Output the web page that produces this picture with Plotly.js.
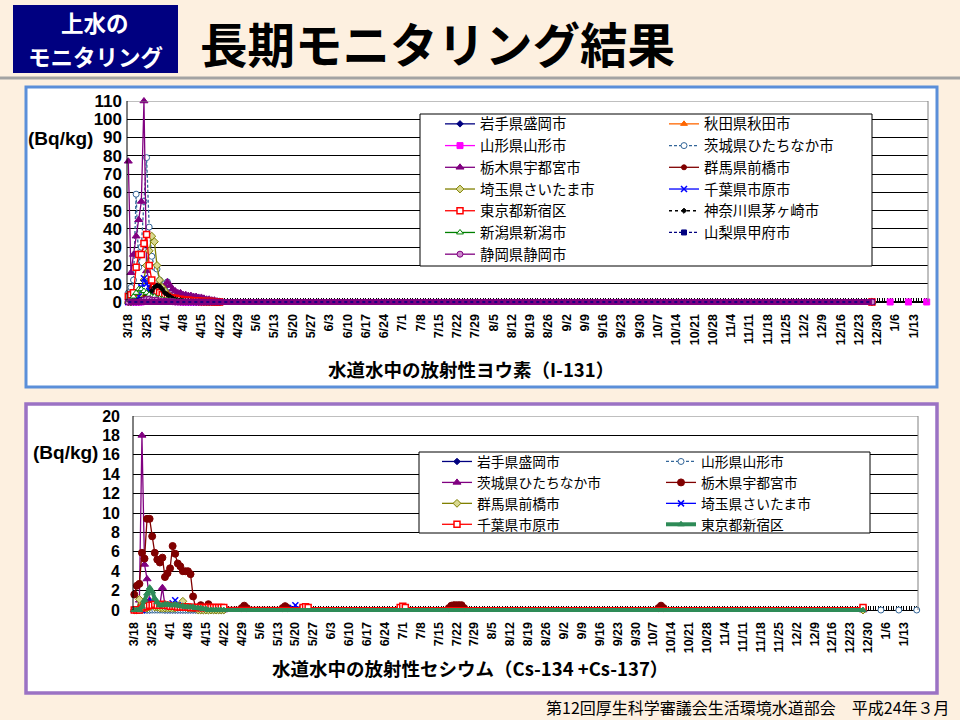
<!DOCTYPE html>
<html>
<head>
<meta charset="utf-8">
<script src="https://cdn.plot.ly/plotly-3.0.1.min.js"></script>
<style>
  body { margin: 0; background: #fdf0e0; }
  #chart { width: 960px; height: 720px; }
</style>
</head>
<body>
<div id="chart"></div>
<script>
// daily categories for the early, high part of the chart (3/18 - 4/22)
const earlyDates = [
  "2011-03-18", "2011-03-19", "2011-03-20", "2011-03-21", "2011-03-22", "2011-03-23", "2011-03-24",
  "2011-03-25", "2011-03-26", "2011-03-27", "2011-03-28", "2011-03-29", "2011-03-30", "2011-03-31",
  "2011-04-01", "2011-04-02", "2011-04-03", "2011-04-04", "2011-04-05", "2011-04-06", "2011-04-07",
  "2011-04-08", "2011-04-09", "2011-04-10", "2011-04-11", "2011-04-12", "2011-04-13", "2011-04-14",
  "2011-04-15", "2011-04-16", "2011-04-17", "2011-04-18", "2011-04-19", "2011-04-20", "2011-04-21",
  "2011-04-22"
];
// after 4/22 everything is at (or near) zero until the last daily value
const tailDates = ["2011-12-28"];
const tailValues = [0];
// weekly values in January (only Yamagata)
const weeklyDates = ["2011-12-29", "2012-01-04", "2012-01-05", "2012-01-11", "2012-01-12", "2012-01-18"];
const weeklyValues = [null, 0, null, 0, null, 0];
// thick band of overlapping markers on the zero line (top chart)
const bandDates = ["2011-03-18", "2011-12-28"];
const bandValues = [0, 0];

// ---- I-131 (Bq/kg)
const iwateI    = [0,0,0,0,0,0,0.5, 1,1,1,0.5,0.5,0.5,0.3, 0.3,0.2,0.2,0.2,0.1,0.1,0, 0,0,0,0,0,0,0, 0,0,0,0,0,0,0, 0];
const akitaI    = [0,0,0,0,0,0,0.3, 0.5,0.5,0.3,0.3,0.2,0.2,0.2, 0.1,0.1,0,0,0,0,0, 0,0,0,0,0,0,0, 0,0,0,0,0,0,0, 0];
const yamagataI = [0,0,0,0,0,0,1, 2,3,2,3,2,1,1, 0.5,0.5,0.3,0.3,0.2,0.2,0.1, 0,0,0,0,0,0,0, 0,0,0,0,0,0,0, 0];
const ibarakiI  = [5,8,12,59,19,30,55, 79,41,25,19,18,12,9, 10,11,8,6,4,3,2.5, 2,2,1.5,1.5,1,1,1, 0.8,0.5,0.5,0.3,0.3,0.2,0.2, 0];
const tochigiI  = [77,16,26,36,45,55,110, 17,12,9,7,6,6,7, 9,11,9,7,6,5,5, 4,4,3.5,3.5,3,3,2.5, 2.5,2,1.5,1.5,1,1,0.5, 0];
const gunmaI    = [0,0,0,0,1,2,3, 4,6,8,9,9,8,6, 5,4,3,2.5,2,1.5,1.5, 1,1,1,0.8,0.5,0.5,0.5, 0.3,0.3,0.2,0.2,0,0,0, 0];
const saitamaI  = [0,0,1,2,3,5,12, 20,28,36,33,20,12,8, 6,4,3,2,2,1.5,1, 1,1,0.8,0.5,0.5,0.3,0.3, 0.2,0.2,0,0,0,0,0, 0];
const chibaI    = [0,0,0,1,3,8,13, 10,6,4,3,2,2,1.5, 1,1,1,0.5,0.5,0.5,0.3, 0.3,0.2,0.2,0,0,0,0, 0,0,0,0,0,0,0, 0];
const tokyoI    = [3,4,5,19,26,26,32, 37,20,12,8,6,5,4, 3.5,3,2.5,2,2,1.5,1.5, 1,1,1,0.8,0.5,0.5,0.5, 0.3,0.3,0.2,0.2,0.2,0,0, 0];
const kanagawaI = [0,0,0,0,0,0,1, 2,4,6,8,9,8.5,7, 5,4,3,2,1.5,1,1, 0.8,0.5,0.5,0.3,0.2,0,0, 0,0,0,0,0,0,0, 0];
const niigataI  = [0,1,3,5,7,7,6, 5,4,3,3,2,2,1.5, 1,1,0.8,0.5,0.5,0.3,0.3, 0.2,0,0,0,0,0,0, 0,0,0,0,0,0,0, 0];
const yamanashiI= [0,0,0,0,0.5,1,1, 1,1,1,0.5,0.5,0.3,0.3, 0.2,0.2,0,0,0,0,0, 0,0,0,0,0,0,0, 0,0,0,0,0,0,0, 0];
const shizuokaI = [0,0,0,0,0,0.5,1, 1.5,1.5,1,1,1,0.5,0.5, 0.3,0.3,0.2,0.2,0,0,0, 0,0,0,0,0,0,0, 0,0,0,0,0,0,0, 0];

// ---- Cs-134 + Cs-137 (Bq/kg)
const iwateCs    = [0,0,0,0,0,0,0, 0.2,0.2,0.2,0.2,0.2,0,0, 0,0,0,0,0,0,0, 0,0,0,0,0,0,0, 0,0,0,0,0,0,0, 0];
const yamagataCs = [0,0,0,0,0,0,0, 0,0,0,0,0,0,0, 0,0,0,0,0,0,0, 0,0,0,0,0,0,0, 0,0,0,0,0,0,0, 0];
const ibarakiCs  = [0,0,1,18,4.7,3.2,1, 0.6,0.5,0.5,0.5,2.3,0.5,0.4, 0.3,0.3,0.3,0.3,0.2,0.2,0.2, 0.2,0.2,0.1,0.1,0.1,0,0, 0,0,0,0,0,0,0, 0];
const tochigiCs  = [1.6,2.5,2.7,5.9,5.3,9.4,9.4, 7.6,5.9,5.2,4.9,5.4,3.4,3.8, 4.3,6.6,5.8,4.8,4.5,4.0,4.0, 4.0,3.7,1.4,0.2,0.2,0.5,0.2, 0.2,0.6,0.2,0.2,0.2,0.2,0.2, 0.2];
const gunmaCs    = [0,0,1.1,0.3,0.2,0.2,0.3, 0.5,0.3,0.3,0.2,0.2,0.2,0.2, 0.2,0.2,0.2,0.3,0.5,0.9,0.3, 0.2,0.2,0.2,0.2,0,0,0, 0,0,0,0,0,0,0, 0];
const saitamaCs  = [0,0,0,0,0.3,0.5,0.5, 0.9,0.8,0.5,0.5,0.5,0.5,0.4, 0.5,0.7,1.0,0.5,0.4,0.3,0.3, 0.3,0.3,0.2,0.2,0.2,0.3,0.2, 0.2,0.2,0.2,0.2,0.2,0.2,0.2, 0.2];
const chibaCs    = [0,0,0,0.2,0.3,0.4,0.5, 0.5,0.6,0.5,0.5,0.6,0.5,0.5, 0.4,0.4,0.4,0.3,0.3,0.3,0.3, 0.3,0.25,0.25,0.25,0.25,0.25,0.25, 0.25,0.25,0.25,0.25,0.25,0.25,0.25, 0.25];
const tokyoCs    = [0,0,0,0.35,1.0,1.7,2.3, 1.9,1.2,0.8,0.5,0.5,0.6,0.6, 0.5,0.5,0.6,0.5,0.4,0.4,0.3, 0.3,0.3,0.3,0.2,0.2,0.2,0.1, 0.1,0,0,0,0,0,0, 0];

// occasional small detections later in the year
const tochigiCsLateDates = ["2011-04-29","2011-04-30","2011-05-01","2011-05-15","2011-05-16","2011-05-17",
  "2011-07-19","2011-07-20","2011-07-21","2011-07-22","2011-07-23","2011-07-24","2011-07-25",
  "2011-10-09","2011-10-10","2011-10-11","2011-12-28"];
const tochigiCsLateValues = [0.2,0.45,0.2,0.2,0.4,0.2, 0.2,0.45,0.5,0.5,0.5,0.5,0.2, 0.2,0.45,0.2, 0.2];
const saitamaCsLateDates = ["2011-05-19","2011-05-20","2011-05-21","2011-12-28"];
const saitamaCsLateValues = [0.2,0.5,0.2,0.2];
const chibaCsLateDates = ["2011-05-23","2011-05-24","2011-05-25","2011-06-30","2011-07-01","2011-07-02","2011-12-28"];
const chibaCsLateValues = [0.25,0.35,0.25,0.25,0.4,0.25,0.25];

const JP = '"Noto Sans CJK JP", "Noto Sans", sans-serif';
const NUM = '"Liberation Sans", Arial, sans-serif';

// pixel -> paper helpers (margins are zero, so paper == page)
const px = x => x / 960;
const py = y => 1 - y / 720;

function makeTrace(s, xa, ya, legend) {
  return {
    type: "scatter", mode: "lines+markers", name: s.name,
    x: s.x, y: s.y, xaxis: xa, yaxis: ya, legend: legend,
    cliponaxis: false, connectgaps: false,
    line: { color: s.color, width: s.width || 1.3, dash: s.dash || "solid" },
    marker: {
      symbol: s.symbol, size: s.size || 5,
      color: s.fill || s.color,
      line: { color: s.color, width: s.mlw || 1 }
    }
  };
}

const early = (vals) => ({ x: earlyDates.concat(tailDates), y: vals.concat(tailValues) });

const topSeries = [
  { name: "岩手県盛岡市", ...early(iwateI), color: "#000080", symbol: "diamond", size: 5 },
  { name: "秋田県秋田市", ...early(akitaI), color: "#ff6600", symbol: "triangle-up", size: 6 },
  { name: "山形県山形市", x: earlyDates.concat(tailDates, weeklyDates), y: yamagataI.concat(tailValues, weeklyValues),
    color: "#ff00ff", symbol: "square", size: 6 },
  { name: "茨城県ひたちなか市", ...early(ibarakiI), color: "#336699", dash: "3px,2px", symbol: "circle", fill: "#ffffff", size: 6 },
  { name: "栃木県宇都宮市", ...early(tochigiI), color: "#800080", symbol: "triangle-up", size: 7 },
  { name: "群馬県前橋市", ...early(gunmaI), color: "#800000", symbol: "circle", size: 5 },
  { name: "埼玉県さいたま市", ...early(saitamaI), color: "#808000", symbol: "diamond", fill: "#d8d890", size: 6 },
  { name: "千葉県市原市", ...early(chibaI), color: "#0000ff", symbol: "x-thin", size: 6, mlw: 1.5 },
  { name: "東京都新宿区", ...early(tokyoI), color: "#ff0000", symbol: "square", fill: "#ffffff", size: 6, mlw: 1.5 },
  { name: "神奈川県茅ヶ崎市", ...early(kanagawaI), color: "#000000", dash: "dot", symbol: "diamond", size: 4 },
  { name: "新潟県新潟市", ...early(niigataI), color: "#008000", symbol: "triangle-up", fill: "#ffffff", size: 6 },
  { name: "山梨県甲府市", ...early(yamanashiI), color: "#000080", dash: "3px,2px", symbol: "square", size: 5 },
  { name: "静岡県静岡市", ...early(shizuokaI), color: "#800080", symbol: "circle", fill: "#cc88cc", size: 6 }
];

const botSeries = [
  { name: "岩手県盛岡市", ...early(iwateCs), color: "#000080", symbol: "diamond", size: 5 },
  { name: "山形県山形市", x: earlyDates.concat(tailDates, weeklyDates), y: yamagataCs.concat(tailValues, weeklyValues),
    color: "#336699", dash: "3px,2px", symbol: "circle", fill: "#ffffff", size: 6 },
  { name: "茨城県ひたちなか市", ...early(ibarakiCs), color: "#800080", symbol: "triangle-up", size: 7 },
  { name: "栃木県宇都宮市", x: earlyDates.concat(tochigiCsLateDates), y: tochigiCs.concat(tochigiCsLateValues),
    color: "#800000", symbol: "circle", size: 7 },
  { name: "群馬県前橋市", ...early(gunmaCs), color: "#808000", symbol: "diamond", fill: "#d8d890", size: 6 },
  { name: "埼玉県さいたま市", x: earlyDates.concat(saitamaCsLateDates), y: saitamaCs.concat(saitamaCsLateValues),
    color: "#0000ff", symbol: "x-thin", size: 6, mlw: 1.5 },
  { name: "千葉県市原市", x: earlyDates.concat(chibaCsLateDates), y: chibaCs.concat(chibaCsLateValues),
    color: "#ff0000", symbol: "square", fill: "#ffffff", size: 6, mlw: 1.5 },
  { name: "東京都新宿区", ...early(tokyoCs), color: "#2e8b57", width: 4, symbol: "triangle-up", size: 6 }
];

const data = [];
topSeries.forEach((s, i) => data.push(makeTrace(s, "x", "y", i % 2 === 0 ? "legend" : "legend2")));
// zero band drawn on top, as in the original
data.push({ type: "scatter", mode: "lines", x: bandDates, y: bandValues, xaxis: "x", yaxis: "y",
  showlegend: false, cliponaxis: false, hoverinfo: "skip", line: { color: "#800080", width: 6 } });
data.push({ type: "scatter", mode: "lines", x: bandDates, y: bandValues, xaxis: "x", yaxis: "y",
  showlegend: false, cliponaxis: false, hoverinfo: "skip", line: { color: "#000080", width: 1.5, dash: "dot" } });
botSeries.forEach((s, i) => data.push(makeTrace(s, "x2", "y2", i % 2 === 0 ? "legend3" : "legend4")));

// x axis sits on the zero line; the y domain runs a few pixels lower so zero-lines are not clipped
function dateAxis(domain, posY) {
  return {
    domain: domain, anchor: "free", position: posY, type: "date", layer: "below traces",
    range: ["2011-03-17 12:00", "2012-01-18 12:00"],
    tick0: "2011-03-18", dtick: 7 * 86400000, tickformat: "%-m/%-d", tickangle: -90,
    tickfont: { family: NUM, size: 12.5, weight: "bold", color: "#000" },
    ticks: "inside", ticklen: 4, tickcolor: "#000", ticklabelstandoff: 6,
    minor: { tick0: "2011-03-18", dtick: 86400000, ticks: "inside", ticklen: 4, tickcolor: "#000", showgrid: false },
    showline: true, linecolor: "#000", linewidth: 1,
    showgrid: false, zeroline: false, fixedrange: true
  };
}

function valueAxis(domain, anchor, lo, max, step, fontSize, standoff) {
  return {
    domain: domain, anchor: anchor, range: [lo, max], tick0: 0, dtick: step,
    tickfont: { family: NUM, size: fontSize, weight: "bold", color: "#000" },
    ticks: "", ticklabelstandoff: standoff,
    showgrid: true, gridcolor: "#000", gridwidth: 1,
    showline: false, zeroline: false, fixedrange: true
  };
}

function legendAt(x, y, size) {
  return {
    x: px(x), xanchor: "left", y: py(y), yanchor: "top",
    bgcolor: "rgba(0,0,0,0)", borderwidth: 0, tracegroupgap: 0,
    font: { family: JP, size: size, color: "#000" }
  };
}

function box(x0, y0, x1, y1, fill, lineColor, lineWidth, layer) {
  return { type: "rect", xref: "paper", yref: "paper", x0: px(x0), x1: px(x1), y0: py(y1), y1: py(y0),
    fillcolor: fill, line: { color: lineColor, width: lineWidth }, layer: layer || "below" };
}

// plot-area frame: black value axis on the left, grey top and right edges
function frame(xr, yr, max) {
  return [
    { type: "line", xref: xr + " domain", yref: yr, x0: 0, x1: 1, y0: max, y1: max, line: { color: "#808080", width: 1 }, layer: "above" },
    { type: "line", xref: xr + " domain", yref: yr, x0: 1, x1: 1, y0: 0, y1: max, line: { color: "#808080", width: 1 }, layer: "above" },
    { type: "line", xref: xr + " domain", yref: yr, x0: 0, x1: 0, y0: 0, y1: max, line: { color: "#000000", width: 1 }, layer: "above" }
  ];
}

function text(str, x, y, opts) {
  return Object.assign({ text: str, xref: "paper", yref: "paper", x: px(x), y: py(y),
    xanchor: "center", yanchor: "middle", showarrow: false }, opts);
}

const headFont = { family: JP, size: 22.5, weight: "bold", color: "#ffffff" };

const layout = {
  width: 960, height: 720,
  margin: { l: 0, r: 0, t: 0, b: 0 },
  paper_bgcolor: "#fdf0e0", plot_bgcolor: "rgba(0,0,0,0)",
  xaxis: dateAxis([px(127), px(928)], py(302)),
  yaxis: valueAxis([py(306), py(101)], "x", -2.2, 110, 10, 17, 4),
  xaxis2: dateAxis([px(133), px(918)], py(610)),
  yaxis2: valueAxis([py(614), py(416)], "x2", -0.41, 20, 2, 16, 12),
  legend: legendAt(440, 108, 14.4),
  legend2: legendAt(664, 108, 14.4),
  legend3: legendAt(437, 446, 13.8),
  legend4: legendAt(661, 446, 13.8),
  shapes: [
    box(0, 76.5, 960, 79.5, "#a3a3a3", "rgba(0,0,0,0)", 0),
    box(13, 5, 178, 73, "#000080", "rgba(0,0,0,0)", 0),
    box(26, 87, 937, 387, "#ffffff", "#5b8fd9", 3),
    box(26, 404, 937, 693, "#ffffff", "#9b72c4", 3.5),
    ...frame("x", "y", 110),
    ...frame("x2", "y2", 20),
    box(420, 114, 872, 266, "#ffffff", "#000000", 1, "above"),
    box(419, 452, 870, 533, "#ffffff", "#000000", 1, "above")
  ],
  annotations: [
    text("上水の", 95, 38.5, { yanchor: "bottom", borderpad: 0, font: headFont }),
    text("モニタリング", 95, 38.5, { yanchor: "top", borderpad: 0, font: headFont }),
    text("長期モニタリング結果", 198, 42, { xanchor: "left", font: { family: JP, size: 47.5, weight: "bold", color: "#000" } }),
    text("(Bq/kg)", 60, 138, { font: { family: NUM, size: 19, weight: "bold", color: "#000" } }),
    text("(Bq/kg)", 65, 452, { font: { family: NUM, size: 19, weight: "bold", color: "#000" } }),
    text("水道水中の放射性ヨウ素（I-131）", 471, 369, { font: { family: JP, size: 18.5, weight: "bold", color: "#000" } }),
    text("水道水中の放射性セシウム（Cs-134 +Cs-137）", 470, 668, { font: { family: JP, size: 18.5, weight: "bold", color: "#000" } }),
    text("第12回厚生科学審議会生活環境水道部会　平成24年３月", 952, 707, { xanchor: "right", font: { family: JP, size: 16, color: "#000" } })
  ],
  showlegend: true
};

Plotly.newPlot("chart", data, layout, { displayModeBar: false, staticPlot: true });
</script>
</body>
</html>
